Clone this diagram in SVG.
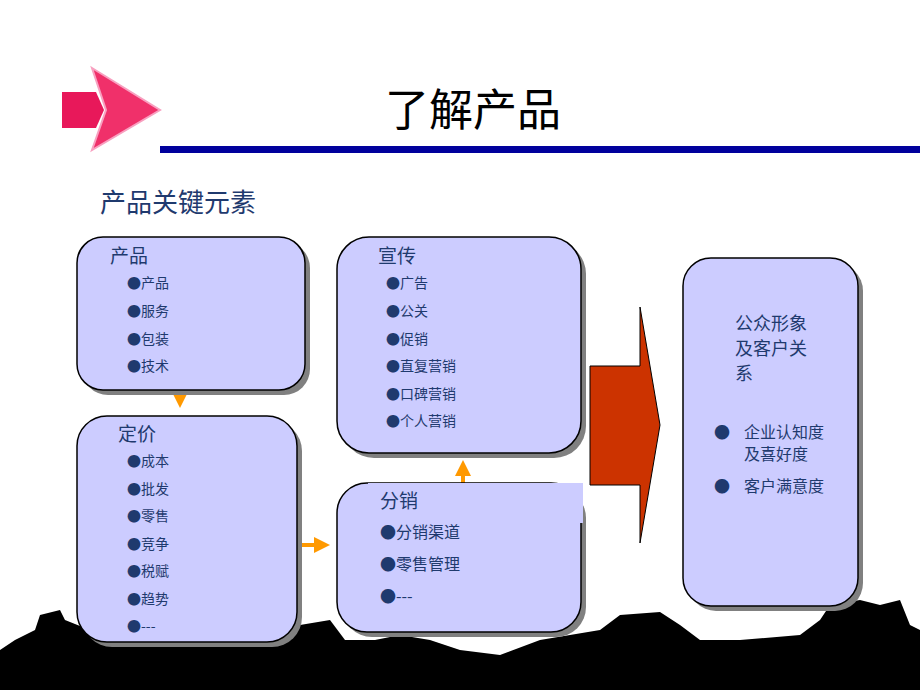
<svg xmlns="http://www.w3.org/2000/svg" width="920" height="690" viewBox="0 0 920 690">
<style>
.box{fill:#CCCCFF;stroke:#000;stroke-width:1.5}
.sh{fill:#808080}
.t{font-family:"Noto Sans CJK SC","Liberation Sans",sans-serif;fill:#1F3A6E}
.h{font-size:19px}
.s{font-size:14px}
.m{font-size:16px}
</style>
<defs>
<marker id="ah" markerWidth="4" markerHeight="4" refX="2" refY="2" orient="auto" markerUnits="strokeWidth"><path d="M0,0L4,2L0,4z" fill="#FF9900"/></marker>
</defs>
<rect width="920" height="690" fill="#fff"/>
<g id="silhouette" fill="#000">
<path d="M0,690 L0,650 L15,640 L35,630 L40,615 L60,610 L65,620 L90,630 L140,640 L200,645 L270,640 L300,625 L330,620 L345,640 L375,640 L400,635 L430,640 L460,650 L500,655 L540,640 L600,630 L620,615 L660,612 L680,625 L700,640 L740,640 L800,635 L820,620 L830,605 L860,600 L880,605 L900,600 L910,625 L920,630 L920,690 Z"/>
</g>
<g id="logo">
<polygon points="62,92 96,92 104,110 96,128 62,128" fill="#E8185A"/>
<polygon points="92,68 160,110 92,150 106,110" fill="#F0306A" stroke="#F8A0C0" stroke-width="2"/>
</g>
<rect x="160" y="146" width="760" height="7" fill="#00009C"/>
<text class="t" x="473" y="126" text-anchor="middle" font-size="44" style="fill:#000">了解产品</text>
<text class="t" x="100" y="212" font-size="26" style="fill:#1F3A6E">产品关键元素</text>
<g id="connectors">
<line x1="180" y1="392" x2="180" y2="400" stroke="#FF9900" stroke-width="4" marker-end="url(#ah)"/>
<line x1="299" y1="545" x2="322" y2="545" stroke="#FF9900" stroke-width="4" marker-end="url(#ah)"/>
<line x1="463" y1="483" x2="463" y2="468" stroke="#FF9900" stroke-width="4" marker-end="url(#ah)"/>
<path d="M590,366 L640,366 L640,307 L660,425 L640,543 L640,485 L590,485 Z" fill="#CC3300" stroke="#000" stroke-width="1"/>
</g>
<g id="product">
<rect class="sh" x="82" y="242" width="228" height="153" rx="26"/>
<rect class="box" x="77" y="237" width="228" height="153" rx="26"/>
<text class="t h" x="110" y="263">产品</text>
<text class="t s" x="127" y="288">●产品</text>
<text class="t s" x="127" y="316">●服务</text>
<text class="t s" x="127" y="344">●包装</text>
<text class="t s" x="127" y="371">●技术</text>
</g>
<g id="price">
<rect class="sh" x="82" y="421" width="220" height="226" rx="30"/>
<rect class="box" x="77" y="416" width="220" height="226" rx="30"/>
<text class="t h" x="118" y="441">定价</text>
<text class="t s" x="127" y="466">●成本</text>
<text class="t s" x="127" y="494">●批发</text>
<text class="t s" x="127" y="521">●零售</text>
<text class="t s" x="127" y="549">●竞争</text>
<text class="t s" x="127" y="576">●税赋</text>
<text class="t s" x="127" y="604">●趋势</text>
<text class="t s" x="127" y="631">●---</text>
</g>
<g id="promo">
<rect class="sh" x="342" y="242" width="244" height="216" rx="32"/>
<rect class="box" x="337" y="237" width="244" height="216" rx="32"/>
<text class="t h" x="378" y="263">宣传</text>
<text class="t s" x="386" y="288">●广告</text>
<text class="t s" x="386" y="316">●公关</text>
<text class="t s" x="386" y="344">●促销</text>
<text class="t s" x="386" y="371">●直复营销</text>
<text class="t s" x="386" y="399">●口碑营销</text>
<text class="t s" x="386" y="426">●个人营销</text>
</g>
<g id="dist">
<rect class="sh" x="342" y="488" width="244" height="149" rx="30"/>
<rect class="box" x="337" y="483" width="244" height="149" rx="30"/>
<rect x="368" y="483" width="215" height="40" fill="#CCCCFF"/>
<text class="t h" x="380" y="508">分销</text>
<text class="t m" x="380" y="538">●分销渠道</text>
<text class="t m" x="380" y="570">●零售管理</text>
<text class="t m" x="380" y="602">●---</text>
</g>
<g id="image">
<rect class="sh" x="688" y="263" width="175" height="348" rx="28"/>
<rect class="box" x="683" y="258" width="175" height="348" rx="28"/>
<text class="t" x="735" y="330" font-size="18">公众形象</text>
<text class="t" x="735" y="355" font-size="18">及客户关</text>
<text class="t" x="735" y="380" font-size="18">系</text>
<text class="t m" x="714" y="438">●</text>
<text class="t m" x="744" y="438">企业认知度</text>
<text class="t m" x="744" y="460">及喜好度</text>
<text class="t m" x="714" y="492">●</text>
<text class="t m" x="744" y="492">客户满意度</text>
</g>
</svg>
